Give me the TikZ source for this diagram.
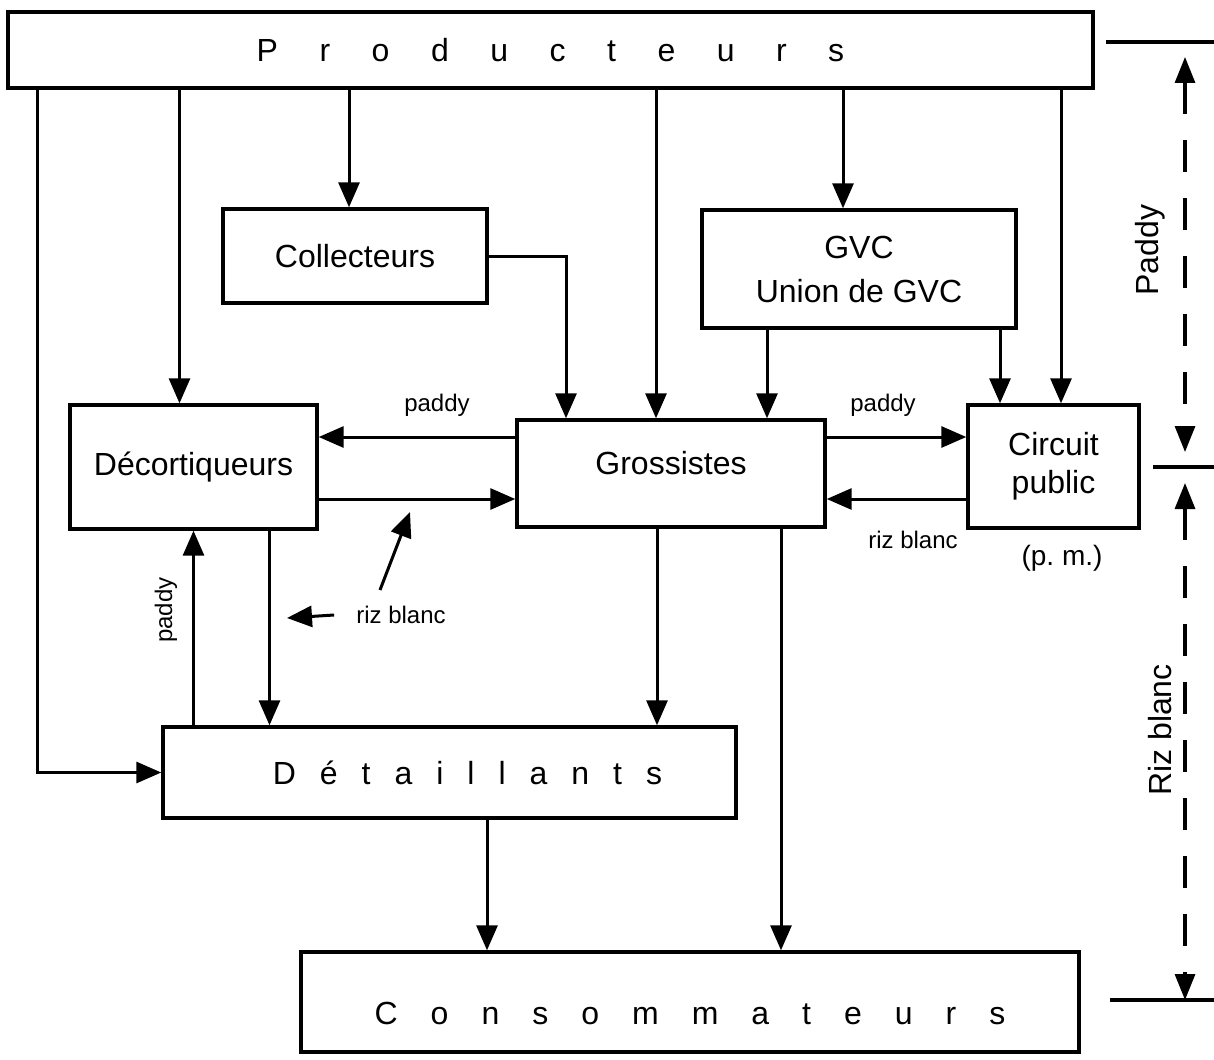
\documentclass[tikz,border=0pt]{standalone}
\usepackage{fontspec}
\setmainfont{Liberation Sans}
\usepackage{tikz}
\usetikzlibrary{arrows.meta}

\newcommand{\boxtxt}{\fontsize{32}{38}\selectfont}
\newcommand{\tagtxt}{\fontsize{24}{28}\selectfont}

\begin{document}
\begin{tikzpicture}[
    x=1pt, y=-1pt,
    box/.style={draw, line width=3.4pt, inner sep=0pt, font=\boxtxt},
    flow/.style={line width=3pt, -{Triangle[length=25pt, width=21pt]}},
    tag/.style={font=\tagtxt, inner sep=0pt},
    side/.style={font=\boxtxt, inner sep=0pt, rotate=90},
    spanline/.style={line width=3.2pt, dash pattern=on 32pt off 26pt,
                  {Triangle[length=26pt, width=20pt]}-{Triangle[length=26pt, width=20pt]}},
    tick/.style={line width=3.4pt}
  ]
  \useasboundingbox (0,0) rectangle (1214,1059);

  % boxes
  \node[box, minimum width=1085pt, minimum height=76pt] (prod) at (550.5,50)
    {\spaceskip=41.5pt P r o d u c t e u r s};
  \node[box, minimum width=264pt, minimum height=94pt] (coll) at (355,256) {Collecteurs};
  \node[box, minimum width=314pt, minimum height=118pt, align=center] (gvc) at (859,269)
    {GVC\\[6pt]Union de GVC};
  \node[box, minimum width=247pt, minimum height=124pt] (dec) at (193.5,467) {Décortiqueurs};
  \node[box, minimum width=308pt, minimum height=107pt] (gros) at (671,473.5)
    {\raisebox{10pt}[\height][\depth]{Grossistes}};
  \node[box, minimum width=171pt, minimum height=123pt, align=center] (circ) at (1053.5,466.5)
    {Circuit\\public};
  \node[box, minimum width=573pt, minimum height=91pt] (det) at (449.5,772.5)
    {\hspace*{36pt}\spaceskip=24pt D é t a i l l a n t s};
  \node[box, minimum width=778pt, minimum height=100pt] (cons) at (690,1002)
    {\raisebox{-11pt}[\height][\depth]{\spaceskip=33pt C o n s o m m a t e u r s}};

  % drop points on the boxes
  \coordinate (decin)  at ([xshift=-14pt]dec.north);
  \coordinate (collin) at ([xshift=-6pt]coll.north);
  \coordinate (grosp)  at ([xshift=-15pt]gros.north);
  \coordinate (grosg)  at ([xshift=96pt]gros.north);
  \coordinate (gvcin)  at ([xshift=-16pt]gvc.north);
  \coordinate (circg)  at ([xshift=-53.5pt]circ.north);
  \coordinate (circp)  at ([xshift=7.5pt]circ.north);
  \coordinate (decout) at ([xshift=76pt]dec.south);
  \coordinate (grosd)  at ([xshift=-14pt]gros.south);
  \coordinate (grosc)  at ([xshift=110pt]gros.south);
  \coordinate (detc)   at ([xshift=37.5pt]det.south);

  % producteurs
  \draw[flow] ([xshift=31pt]prod.south west) |- (det.west);
  \draw[flow] (decin |- prod.south) -- (decin);
  \draw[flow] (collin |- prod.south) -- (collin);
  \draw[flow] (grosp |- prod.south) -- (grosp);
  \draw[flow] (gvcin |- prod.south) -- (gvcin);
  \draw[flow] (circp |- prod.south) -- (circp);

  % collecteurs, GVC
  \draw[flow] (coll.east) -| ([xshift=-105pt]gros.north);
  \draw[flow] (grosg |- gvc.south) -- (grosg);
  \draw[flow] (circg |- gvc.south) -- (circg);

  % paddy / riz blanc between the middle boxes
  \draw[flow] ([yshift=36.5pt]gros.west) -- ([yshift=36.5pt]gros.west -| dec.east);
  \draw[flow] ([yshift=-32pt]dec.east) -- ([yshift=-32pt]dec.east -| gros.west);
  \draw[flow] ([yshift=36.5pt]gros.east) -- ([yshift=36.5pt]gros.east -| circ.west);
  \draw[flow] ([yshift=-32.5pt]circ.west) -- ([yshift=-32.5pt]circ.west -| gros.east);

  % down to detaillants and consommateurs
  \draw[flow] (dec.south |- det.north) -- (dec.south);
  \draw[flow] (decout) -- (decout |- det.north);
  \draw[flow] (grosd) -- (grosd |- det.north);
  \draw[flow] (grosc) -- (grosc |- cons.north);
  \draw[flow] (detc) -- (detc |- cons.north);

  % labels
  \node[tag] (padl) at (437,405) {paddy};
  \node[tag] (padr) at (883,405) {paddy};
  \node[tag] (rizr) at (913,540) {riz blanc};
  \node[tag] (rizl) at (401,615) {riz blanc};
  \node[tag, rotate=90] (padv) at (166,610) {paddy};
  \node[font=\fontsize{28}{32}\selectfont, inner sep=0pt] (pm) at (1062,558) {(p.~m.)};

  \coordinate (ptr1) at (287,618);
  \coordinate (ptr2a) at (380,590);
  \coordinate (ptr2b) at (410,512);
  \draw[flow] ([xshift=-22pt]rizl.west) -- (ptr1);
  \draw[flow] (ptr2a) -- (ptr2b);

  % paddy / riz blanc ranges on the right
  \coordinate (k1) at (1106,42);
  \coordinate (k2) at (1153,467);
  \coordinate (k3) at (1110,1000);
  \draw[tick] (k1) -- (1214,42);
  \draw[tick] (k2) -- (1214,467);
  \draw[tick] (k3) -- (1214,1000);
  \draw[spanline] (1185,57) -- (1185,452);
  \draw[spanline] (1185,483) -- (1185,1000);
  \node[side] (sidep) at (1150,250) {Paddy};
  \node[side] (sider) at (1160,730) {Riz blanc};
\end{tikzpicture}
\end{document}
